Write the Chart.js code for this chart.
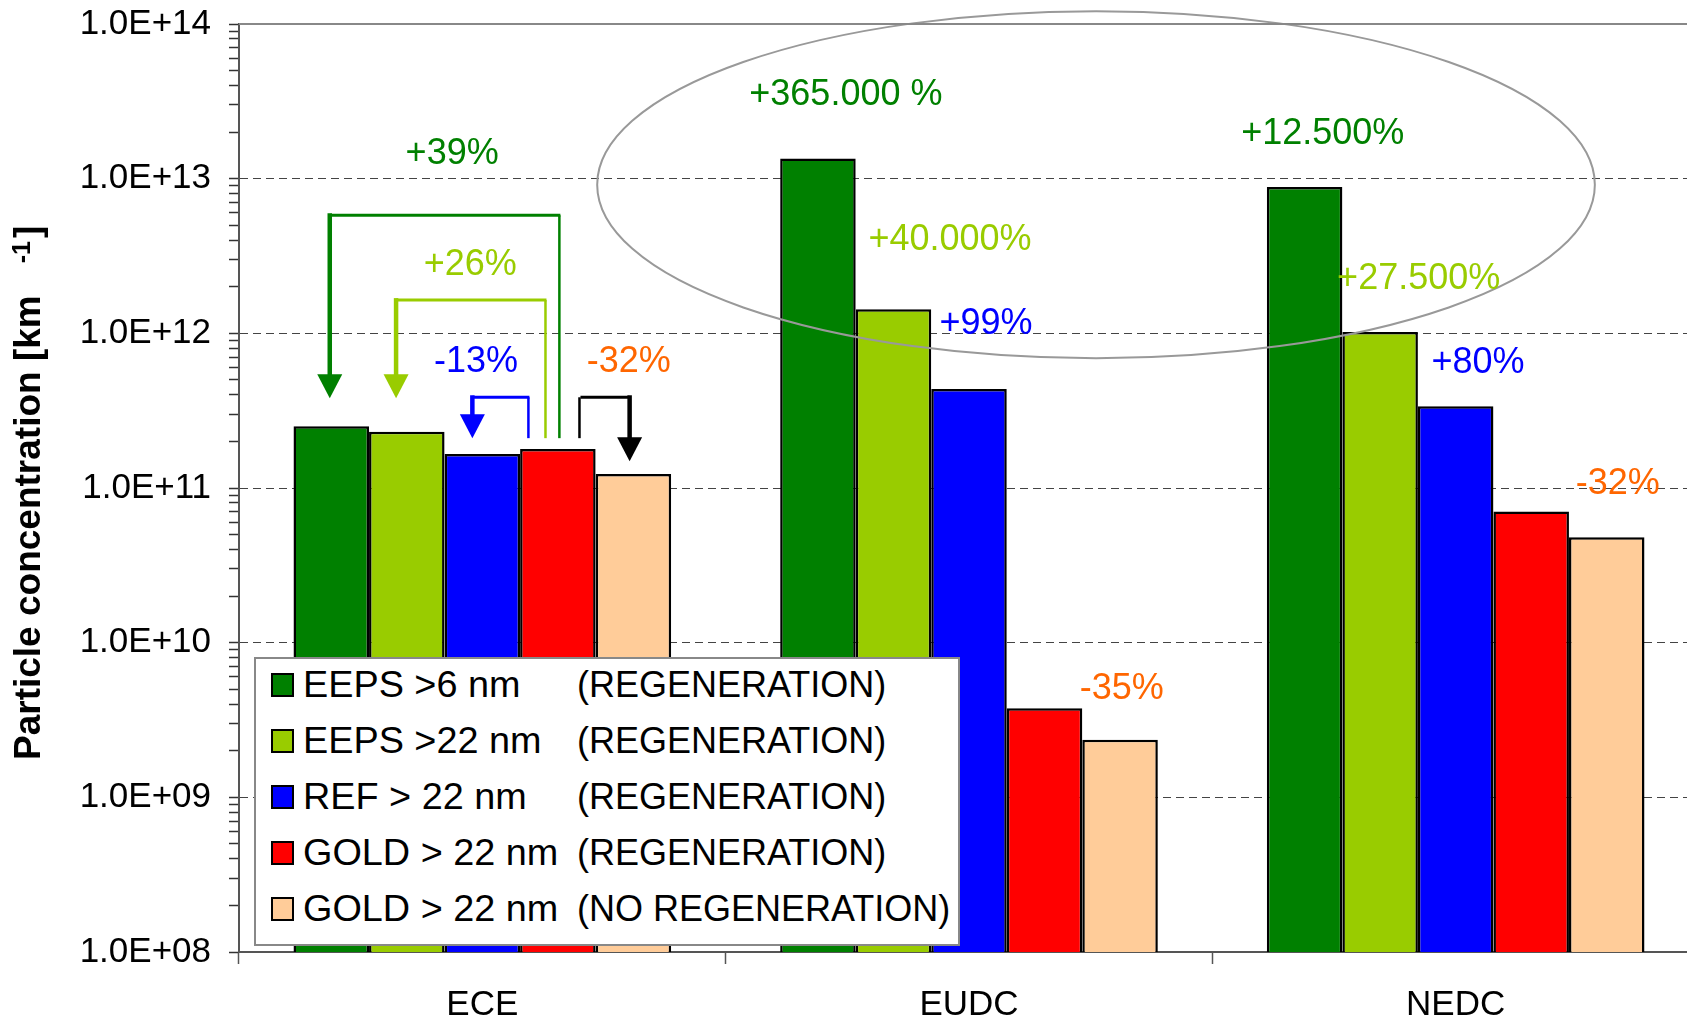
<!DOCTYPE html>
<html>
<head>
<meta charset="utf-8">
<script src="https://cdn.jsdelivr.net/npm/chart.js@4"></script>
<style>
html,body{margin:0;padding:0;overflow:hidden;background:#fff;}
#wrap{position:relative;width:1712px;height:1022px;}
#chart{position:absolute;left:0;top:0;}
#legend{position:absolute;left:254px;top:657px;width:706px;height:289px;box-sizing:border-box;border:2px solid #888;background:#fff;font-family:'Liberation Sans',Arial,sans-serif;font-size:36px;color:#000;z-index:2;}
.row{position:absolute;left:0;height:56px;line-height:56px;width:100%;white-space:pre;}
.sw{position:absolute;left:15px;top:16px;width:23px;height:24px;box-sizing:border-box;border:2px solid #000;}
.nm{position:absolute;left:47px;top:0;transform:scaleX(1.05);transform-origin:left center;}
.cd{position:absolute;left:321px;top:0;}
</style>
</head>
<body>
<div id="wrap">
<canvas id="chart" width="1712" height="1022"></canvas>
<div id="legend"></div>
</div>
<script>
// ---- data ----
const categories = ['ECE', 'EUDC', 'NEDC'];
const seriesNames = ['EEPS >6 nm', 'EEPS >22 nm', 'REF > 22 nm', 'GOLD > 22 nm', 'GOLD > 22 nm'];
const seriesConditions = ['(REGENERATION)', '(REGENERATION)', '(REGENERATION)', '(REGENERATION)', '(NO REGENERATION)'];
const seriesColors = ['#008000', '#99CC00', '#0000FF', '#FF0000', '#FFCC99'];
const eepsGt6 = [2.51e11, 1.35e13, 8.84e12];
const eepsGt22 = [2.31e11, 1.43e12, 1.02e12];
const refGt22 = [1.66e11, 4.37e11, 3.38e11];
const goldRegen = [1.79e11, 3.77e9, 7.05e10];
const goldNoRegen = [1.23e11, 2.36e9, 4.80e10];
const seriesValues = [eepsGt6, eepsGt22, refGt22, goldRegen, goldNoRegen];
const yExponents = [8, 9, 10, 11, 12, 13, 14];
const yTickLabels = ['1.0E+08', '1.0E+09', '1.0E+10', '1.0E+11', '1.0E+12', '1.0E+13', '1.0E+14'];
const yTitle = 'Particle concentration [km';
const yTitleSup = '-1';

// annotation texts (percent changes)
const noteTexts = ['+39%', '+26%', '-13%', '-32%', '+365.000 %', '+40.000%', '+99%', '-35%', '+12.500%', '+27.500%', '+80%', '-32%'];
const noteCategory = [0, 0, 0, 0, 1, 1, 1, 1, 2, 2, 2, 2];
const noteOffset = [-0.062, -0.025, -0.013, 0.301, -0.253, -0.039, 0.035, 0.314, -0.273, -0.076, 0.046, 0.333];
const noteLevel = [1.44e13, 2.75e12, 6.5e11, 6.5e11, 3.46e13, 4.0e12, 1.15e12, 5.0e9, 1.94e13, 2.24e12, 6.4e11, 1.06e11];
const noteColors = ['#008000', '#99CC00', '#0000FF', '#FF6600', '#008000', '#99CC00', '#0000FF', '#FF6600', '#008000', '#99CC00', '#0000FF', '#FF6600'];

// bracket arrows in ECE group
const bracketColors = ['#008000', '#99CC00', '#0000FF', '#000000'];
const bracketFrom = [[3, 0.02], [3, -0.164], [3, -0.39], [3, 0.286]];
const bracketTo = [[0, -0.02], [1, -0.142], [2, -0.132], [4, -0.05]];
const bracketTop = [5.8e12, 1.64e12, 3.86e11, 3.86e11];
const bracketFromBottom = [2.1e11, 2.1e11, 2.1e11, 2.1e11];
const bracketTip = [3.81e11, 3.81e11, 2.1e11, 1.49e11];

// ellipse around the EEPS results
const ellipseLeft = [1, -0.764];
const ellipseRight = [2, 0.286];
const ellipseTop = 1.21e14;
const ellipseBottom = 6.9e11;

const FONT = "'Liberation Sans', Arial, sans-serif";

// ---- legend (HTML) ----
const legendEl = document.getElementById('legend');
seriesNames.forEach((n, i) => {
  const row = document.createElement('div');
  row.className = 'row';
  row.style.top = (-2 + 56 * i) + 'px';
  const sw = document.createElement('div');
  sw.className = 'sw';
  sw.style.background = seriesColors[i];
  const nm = document.createElement('span');
  nm.className = 'nm';
  nm.textContent = n;
  const cd = document.createElement('span');
  cd.className = 'cd';
  cd.textContent = seriesConditions[i];
  row.appendChild(sw); row.appendChild(nm); row.appendChild(cd);
  legendEl.appendChild(row);
});

function isDecade(v) {
  const l = Math.log10(v);
  return Math.abs(l - Math.round(l)) < 1e-9;
}

const overlay = {
  id: 'overlay',
  afterDatasetsDraw(chart) {
    const ctx = chart.ctx;
    const xs = chart.scales.x, ys = chart.scales.y;
    const catW = (chart.chartArea.right - chart.chartArea.left) / categories.length;
    // ellipse
    const exL = xs.getPixelForValue(ellipseLeft[0]) + ellipseLeft[1] * catW;
    const exR = xs.getPixelForValue(ellipseRight[0]) + ellipseRight[1] * catW;
    const eyT = ys.getPixelForValue(ellipseTop);
    const eyB = ys.getPixelForValue(ellipseBottom);
    ctx.save();
    ctx.strokeStyle = '#999999';
    ctx.lineWidth = 2;
    ctx.beginPath();
    ctx.ellipse((exL + exR) / 2, (eyT + eyB) / 2, (exR - exL) / 2, (eyB - eyT) / 2, 0, 0, Math.PI * 2);
    ctx.stroke();
    ctx.restore();

    // brackets
    const barX = (ds, off) => {
      const el = chart.getDatasetMeta(ds).data[0];
      return el.x + off * el.width;
    };
    bracketColors.forEach((c, i) => {
      const xF = barX(bracketFrom[i][0], bracketFrom[i][1]);
      const xT = barX(bracketTo[i][0], bracketTo[i][1]);
      const yTop = ys.getPixelForValue(bracketTop[i]);
      const yFB = ys.getPixelForValue(bracketFromBottom[i]);
      const yTip = ys.getPixelForValue(bracketTip[i]);
      ctx.save();
      ctx.strokeStyle = c; ctx.fillStyle = c; ctx.lineCap = 'butt';
      ctx.lineWidth = 2.5;
      ctx.beginPath(); ctx.moveTo(xF, yFB); ctx.lineTo(xF, yTop); ctx.stroke();
      ctx.lineWidth = 3;
      ctx.beginPath(); ctx.moveTo(xF + 1, yTop); ctx.lineTo(xT, yTop); ctx.stroke();
      ctx.lineWidth = 4.5;
      ctx.beginPath(); ctx.moveTo(xT, yTop - 2); ctx.lineTo(xT, yTip - 22); ctx.stroke();
      ctx.beginPath();
      ctx.moveTo(xT - 12.5, yTip - 24);
      ctx.lineTo(xT + 12.5, yTip - 24);
      ctx.lineTo(xT, yTip);
      ctx.closePath(); ctx.fill();
      ctx.restore();
    });

    // percent notes
    ctx.save();
    ctx.font = '36px ' + FONT;
    ctx.textAlign = 'center';
    ctx.textBaseline = 'middle';
    noteTexts.forEach((t, i) => {
      const x = xs.getPixelForValue(noteCategory[i]) + noteOffset[i] * catW;
      const y = ys.getPixelForValue(noteLevel[i]);
      ctx.fillStyle = noteColors[i];
      ctx.fillText(t, x, y);
    });
    ctx.restore();
  },
  afterDraw(chart) {
    const ctx = chart.ctx;
    const a = chart.chartArea;
    ctx.save();
    ctx.strokeStyle = '#888888';
    ctx.lineWidth = 2;
    ctx.beginPath();
    ctx.moveTo(a.left, a.top); ctx.lineTo(a.right, a.top); ctx.lineTo(a.right, a.bottom);
    ctx.stroke();
    ctx.restore();

    // y axis title with superscript
    ctx.save();
    ctx.translate(40, 760);
    ctx.rotate(-Math.PI / 2);
    ctx.fillStyle = '#000';
    ctx.textAlign = 'left';
    ctx.textBaseline = 'alphabetic';
    ctx.font = 'bold 37px ' + FONT;
    ctx.fillText(yTitle, 0, 0);
    const w = ctx.measureText(yTitle).width;
    ctx.font = 'bold 25px ' + FONT;
    ctx.fillText(yTitleSup, w + 32, -10);
    const w2 = ctx.measureText(yTitleSup).width;
    ctx.font = 'bold 37px ' + FONT;
    ctx.fillText(']', w + 32 + w2 + 3, 0);
    ctx.restore();
  }
};

new Chart(document.getElementById('chart'), {
  type: 'bar',
  data: {
    labels: categories,
    datasets: seriesNames.map((n, i) => ({
      label: n + ' ' + seriesConditions[i],
      data: seriesValues[i],
      backgroundColor: seriesColors[i],
      borderColor: '#000000',
      borderWidth: 2.5,
      categoryPercentage: 0.776,
      barPercentage: 1.0
    }))
  },
  options: {
    responsive: false,
    animation: false,
    layout: { padding: { left: 0, top: 24, right: 13, bottom: 0 } },
    plugins: { legend: { display: false }, tooltip: { enabled: false }, title: { display: false } },
    scales: {
      x: {
        type: 'category',
        grid: { drawOnChartArea: false, drawTicks: true, tickLength: 12, offset: true, tickColor: '#555', tickWidth: 1.5 },
        border: { color: '#555', width: 2 },
        ticks: { font: { family: FONT, size: 35 }, color: '#000', padding: 20, maxRotation: 0, autoSkip: false },
        afterFit: s => { s.height = 70; s.paddingLeft = 0; s.paddingRight = 0; }
      },
      y: {
        type: 'logarithmic',
        min: 1e8,
        max: 1e14,
        afterBuildTicks: s => {
          const t = [];
          for (let e = yExponents[0]; e < yExponents[yExponents.length - 1]; e++) {
            for (let m = 1; m <= 9; m++) t.push({ value: m * Math.pow(10, e) });
          }
          t.push({ value: Math.pow(10, yExponents[yExponents.length - 1]) });
          s.ticks = t;
        },
        afterFit: s => { s.width = 239; s.paddingTop = 0; s.paddingBottom = 0; },
        grid: {
          color: c => {
            const v = c.tick ? c.tick.value : 0;
            if (!v || !isDecade(v) || v <= 1e8 || v >= 1e14) return 'rgba(0,0,0,0)';
            return '#444';
          },
          lineWidth: 1,
          drawTicks: true,
          tickLength: 10,
          tickColor: '#333',
          tickWidth: 1.5
        },
        border: { color: '#555', width: 2, dash: [8, 5] },
        ticks: {
          autoSkip: false,
          font: { family: FONT, size: 35 },
          color: '#000',
          padding: 18,
          callback: v => {
            if (!isDecade(v)) return '';
            const idx = yExponents.indexOf(Math.round(Math.log10(v)));
            return idx >= 0 ? yTickLabels[idx] : '';
          }
        }
      }
    }
  },
  plugins: [overlay]
});
</script>
</body>
</html>
